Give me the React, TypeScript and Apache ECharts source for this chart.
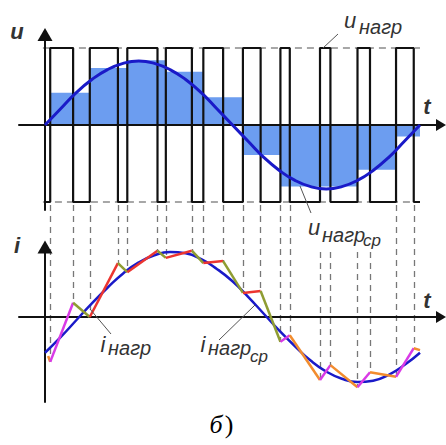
import React, { useEffect, useRef } from "react";
import * as echarts from "echarts";

// x axis in electrical degrees (one period of the fundamental = 0..360)
const pwmEdges = [5, 27, 43, 70, 79, 108, 116, 141, 152, 171, 190, 207, 226, 235, 264, 274, 300, 312, 337, 354];
const pwmStartLevel = -1;
const pwmEnd = 360;

// mean load voltage over each carrier period (u_нагр_ср)
const avgBounds = [5, 43, 79, 116, 152, 190, 226, 264, 300, 337, 360];
const avgValues = [0.42, 0.74, 0.84, 0.69, 0.36, -0.39, -0.8, -0.8, -0.58, -0.15];

// fundamental of load voltage and load current
const sineDeg = [0, 15, 30, 45, 60, 75, 90, 105, 120, 135, 150, 165, 180, 195, 210, 225, 240, 255, 270, 285, 300, 315, 330, 345, 360];
const uSine = [0, 0.21, 0.42, 0.59, 0.72, 0.8, 0.83, 0.8, 0.72, 0.59, 0.42, 0.21, 0, -0.21, -0.42, -0.59, -0.72, -0.8, -0.83, -0.8, -0.72, -0.59, -0.42, -0.21, 0];
const iSine = [-0.55, -0.31, -0.05, 0.21, 0.45, 0.67, 0.84, 0.95, 1.0, 0.98, 0.89, 0.74, 0.55, 0.31, 0.05, -0.21, -0.45, -0.67, -0.84, -0.95, -1.0, -0.98, -0.89, -0.74, -0.55];

// actual (ripple) load current vertices
const iZigX = [3, 5, 27, 43, 70, 79, 108, 116, 141, 152, 171, 190, 207, 226, 235, 264, 274, 300, 312, 337, 354, 360];
const iZigY = [-0.6, -0.69, 0.22, 0.0, 0.83, 0.69, 1.02, 0.91, 1.02, 0.83, 0.86, 0.37, 0.4, -0.38, -0.28, -0.97, -0.74, -1.08, -0.85, -0.92, -0.48, -0.51];

// layout (pixels)
const X0 = 45;
const PXD = 375 / 360;
const GL = 19;
const GR = 441;
const U0 = 125, UK = 77, UT = 34.5, UB = 210;
const I0 = 317, IK = 65, IT = 247, IB = 402;
const GUIDE_TOP = (I0 - 205) / IK;
const GUIDE_TOP_LOW = (I0 - 252) / IK;
const lowGuideEdges = [264, 274, 300, 312];

const FONT = '"Liberation Sans", Arial, sans-serif';
const SERIF = '"Liberation Serif", "Times New Roman", serif';

function txt(text: string, x: number, y: number, size: number, opts: any = {}) {
  const align = opts.align || "center";
  return {
    type: "text",
    z: 100,
    silent: true,
    style: {
      text,
      x,
      y,
      font: `${opts.italic === false ? "" : "italic "}${opts.bold ? "bold " : ""}${size}px ${opts.family || FONT}`,
      fill: opts.color || "#333",
      align,
      textAlign: align,
      verticalAlign: "middle",
      textVerticalAlign: "middle",
    },
  };
}

function leader(x1: number, y1: number, x2: number, y2: number) {
  return {
    type: "line",
    z: 100,
    silent: true,
    shape: { x1, y1, x2, y2 },
    style: { stroke: "#555", lineWidth: 1 },
  };
}

export default function App() {
  const ref = useRef<HTMLDivElement>(null);

  useEffect(() => {
    if (!ref.current) return;
    const chart = echarts.init(ref.current, null, { renderer: "svg" });

    const xMin = (GL - X0) / PXD;
    const xMax = (GR - X0) / PXD;

    // square wave
    const sq: number[][] = [[0, pwmStartLevel]];
    let lvl = pwmStartLevel;
    for (const e of pwmEdges) {
      sq.push([e, lvl]);
      lvl = -lvl;
      sq.push([e, lvl]);
    }
    sq.push([pwmEnd, lvl]);

    // mean voltage steps
    const fill: number[][] = [];
    for (let i = 0; i < avgValues.length; i++) {
      fill.push([avgBounds[i], avgValues[i]], [avgBounds[i + 1], avgValues[i]]);
    }

    // guides from the edges down to the current
    const guides = pwmEdges.map((e) => {
      const k = iZigX.indexOf(e);
      const top = lowGuideEdges.indexOf(e) >= 0 ? GUIDE_TOP_LOW : GUIDE_TOP;
      return { coords: [[e, top], [e, iZigY[k]]] };
    });

    // zigzag segments
    const segs: any[] = [];
    for (let i = 0; i < iZigX.length - 1; i++) {
      const a = iZigY[i], b = iZigY[i + 1];
      const mid = (a + b) / 2;
      let color;
      if (b > a) color = mid > 0 ? "#ec3530" : "#d93ae6";
      else color = mid > 0 ? "#8f9c32" : "#f28c2e";
      segs.push({
        type: "line",
        xAxisIndex: 1,
        yAxisIndex: 1,
        data: [[iZigX[i], a], [iZigX[i + 1], b]],
        symbol: "none",
        lineStyle: { color, width: 2.5 },
        z: 6,
        silent: true,
      });
    }

    const axisBase = (symSize: number[]) => ({
      type: "value",
      axisLine: {
        show: true,
        onZero: true,
        lineStyle: { color: "#111", width: 2 },
        symbol: ["none", "triangle"],
        symbolSize: symSize,
      },
      axisTick: { show: false },
      axisLabel: { show: false },
      splitLine: { show: false },
      z: 3,
    });

    const option: any = {
      animation: false,
      backgroundColor: "#fff",
      grid: [
        { left: GL, width: GR - GL, top: UT, height: UB - UT, outerBoundsMode: "none", containLabel: false },
        { left: GL, width: GR - GL, top: IT, height: IB - IT, outerBoundsMode: "none", containLabel: false },
      ],
      xAxis: [
        { ...axisBase([12, 10]), gridIndex: 0, min: xMin, max: xMax },
        { ...axisBase([12, 10]), gridIndex: 1, min: xMin, max: xMax },
      ],
      yAxis: [
        { ...axisBase([15, 13]), gridIndex: 0, min: -(UB - U0) / UK, max: (U0 - UT) / UK },
        { ...axisBase([15, 13]), gridIndex: 1, min: -(IB - I0) / IK, max: (I0 - IT) / IK },
      ],
      series: [
        {
          type: "line", xAxisIndex: 0, yAxisIndex: 0, data: [[-2, 1], [pwmEnd, 1]], symbol: "none",
          lineStyle: { color: "#8a8a8a", width: 1.5, type: [7, 5] }, z: 1, silent: true,
        },
        {
          type: "line", xAxisIndex: 0, yAxisIndex: 0, data: [[-2, -1], [pwmEnd, -1]], symbol: "none",
          lineStyle: { color: "#8a8a8a", width: 1.5, type: [7, 5] }, z: 1, silent: true,
        },
        {
          type: "line", xAxisIndex: 0, yAxisIndex: 0, data: fill, symbol: "none",
          lineStyle: { width: 0, opacity: 0 }, areaStyle: { color: "#6c9df0", opacity: 1 }, z: 1, silent: true,
        },
        {
          type: "line", xAxisIndex: 0, yAxisIndex: 0, data: sq, symbol: "none",
          lineStyle: { color: "#111", width: 2.2 }, z: 4, silent: true,
        },
        {
          type: "line", xAxisIndex: 0, yAxisIndex: 0, data: sineDeg.map((d, i) => [d, uSine[i]]),
          symbol: "none", smooth: true, lineStyle: { color: "#1a1ac8", width: 3 }, z: 5, silent: true,
        },
        {
          type: "lines", coordinateSystem: "cartesian2d", xAxisIndex: 1, yAxisIndex: 1, data: guides,
          lineStyle: { color: "#777", width: 1.3, type: [6, 5], opacity: 1 }, clip: false, z: 1, silent: true,
        },
        {
          type: "line", xAxisIndex: 1, yAxisIndex: 1, data: sineDeg.map((d, i) => [d, iSine[i]]),
          symbol: "none", smooth: true, lineStyle: { color: "#1a1ac8", width: 2.5 }, z: 5, silent: true,
        },
        ...segs,
      ],
      graphic: [
        txt("u", 17, 31, 22, { bold: true }),
        txt("u", 350, 20.5, 22),
        txt("нагр", 359, 27, 20, { align: "left" }),
        leader(338, 34, 323, 48),
        txt("t", 427, 106, 22, { bold: true }),
        txt("u", 314, 227, 22),
        txt("нагр", 322, 235, 20, { align: "left" }),
        txt("ср", 363, 240, 17, { align: "left" }),
        leader(300, 186, 311, 213),
        txt("i", 17, 245, 22, { bold: true }),
        txt("t", 427, 300, 22, { bold: true }),
        txt("i", 103, 344, 22),
        txt("нагр", 108, 348, 20, { align: "left" }),
        leader(90, 309, 111, 334),
        txt("i", 203, 344, 22),
        txt("нагр", 208, 348, 20, { align: "left" }),
        txt("ср", 250, 356, 17, { align: "left" }),
        leader(219, 340, 255, 305),
        txt("б", 216, 424, 26, { family: SERIF, color: "#000" }),
        txt(")", 229, 424, 26, { family: SERIF, color: "#000", italic: false }),
      ],
    };

    chart.setOption(option);
    return () => chart.dispose();
  }, []);

  return (
    <div
      ref={ref}
      style={{ position: "absolute", left: 0, top: 0, width: 446, height: 445, background: "#fff" }}
    />
  );
}
